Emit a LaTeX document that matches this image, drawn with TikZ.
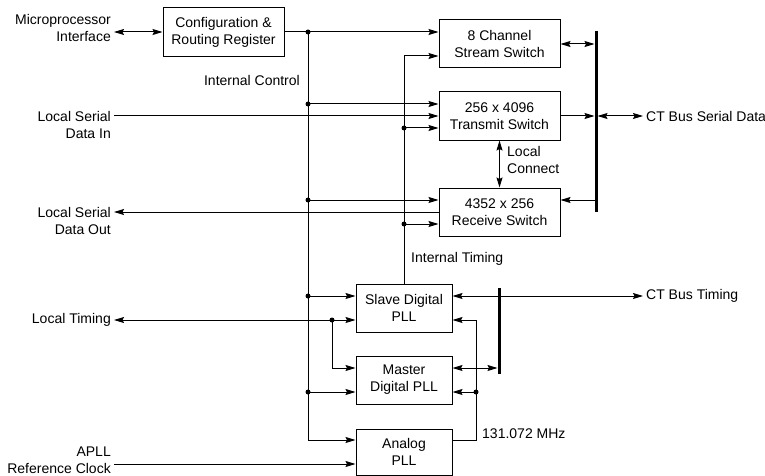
\documentclass[tikz,border=0pt]{standalone}
\usepackage{fontspec}
\setmainfont{Liberation Sans}
\usetikzlibrary{arrows.meta}

\begin{document}
\begin{tikzpicture}[x=1pt,y=-1pt,
    every node/.style={font=\fontsize{14pt}{17pt}\selectfont},
    box/.style={draw,line width=1pt,align=center,inner sep=0pt},
    lbl/.style={align=right,anchor=east,inner sep=3pt},
    wire/.style={line width=1pt},
    arr/.style={wire,-{Stealth[length=10pt,width=6pt,inset=1.5pt]}},
    dbl/.style={wire,{Stealth[length=10pt,width=6pt,inset=1.5pt]}-{Stealth[length=10pt,width=6pt,inset=1.5pt]}},
    bus/.style={line width=3pt},
    dot/.style={fill}]
    \useasboundingbox (0,0) rectangle (765,476);

    % blocks
    \node[box,minimum width=121pt,minimum height=49pt] (cfg) at (223.5,32) {Configuration \&\\Routing Register};
    \node[box,minimum width=121pt,minimum height=48pt] (ch) at (499.5,44) {8 Channel\\Stream Switch};
    \node[box,minimum width=121pt,minimum height=48pt] (tx) at (499.5,116) {256 x 4096\\Transmit Switch};
    \node[box,minimum width=121pt,minimum height=48pt] (rx) at (499.5,212) {4352 x 256\\Receive Switch};
    \node[box,minimum width=96pt,minimum height=48pt] (sl) at (404,308) {Slave Digital\\PLL};
    \node[box,minimum width=96pt,minimum height=48pt] (ms) at (404,380) {Master\\Digital PLL};
    \node[box,minimum width=96pt,minimum height=46pt] (an) at (404,452) {Analog\\PLL};

    % labels
    \node[lbl] (micro) at (114,28) {Microprocessor\\Interface};
    \node[lbl] (din) at (114,125) {Local Serial\\Data In};
    \node[lbl] (dout) at (114,221) {Local Serial\\Data Out};
    \node[lbl] (lt) at (114,320) {Local Timing};
    \node[lbl] (apll) at (114,460) {APLL\\Reference Clock};
    \node[anchor=west,inner sep=3pt] (ctsd) at (643,116) {CT Bus Serial Data};
    \node[anchor=west,inner sep=3pt] (ctbt) at (643,296) {CT Bus Timing};
    \node[anchor=east,inner sep=3pt] (ictl) at (303,80) {Internal Control};
    \node[anchor=west,inner sep=3pt] (itim) at (408,259) {Internal Timing};
    \node[anchor=west,align=left,inner sep=3pt] (lcon) at (504,160) {Local\\Connect};
    \node[anchor=west,inner sep=3pt] (mhz) at (479,434) {131.072 MHz};

    % ports and junctions
    \coordinate (ch-a) at ([yshift=12pt]ch.west);
    \coordinate (ch-b) at ([yshift=-12pt]ch.west);
    \coordinate (tx-a) at ([yshift=12pt]tx.west);
    \coordinate (tx-c) at ([yshift=-12pt]tx.west);
    \coordinate (rx-a) at ([yshift=12pt]rx.west);
    \coordinate (rx-c) at ([yshift=-12pt]rx.west);
    \coordinate (rx-e) at ([yshift=12pt]rx.east);
    \coordinate (sl-a) at ([yshift=12pt]sl.west);
    \coordinate (sl-b) at ([yshift=-12pt]sl.west);
    \coordinate (sl-e) at ([yshift=12pt]sl.east);
    \coordinate (sl-f) at ([yshift=-12pt]sl.east);
    \coordinate (ms-a) at ([yshift=12pt]ms.west);
    \coordinate (ms-b) at ([yshift=-12pt]ms.west);
    \coordinate (ms-e) at ([yshift=12pt]ms.east);
    \coordinate (ms-f) at ([yshift=-12pt]ms.east);
    \coordinate (an-a) at ([yshift=12pt]an.west);
    \coordinate (an-b) at ([yshift=-12pt]an.west);
    \coordinate (an-e) at ([yshift=12pt]an.east);
    \coordinate (ctl) at (308,32);
    \coordinate (ctlend) at (308,440);
    \coordinate (sbus) at (596,31);
    \coordinate (sbusend) at (596,212);
    \coordinate (tbus) at (499,288);
    \coordinate (tbusend) at (499,374);
    \coordinate (clk) at (476,320);
    \coordinate (jlt) at (332,320);

    % internal control
    \draw[wire] (cfg.east) -- (ctl) -- (ctlend);
    \draw[arr] (ctl) -- (ch-a);
    \draw[arr] (ctl |- tx-a) -- (tx-a);
    \draw[arr] (ctl |- rx-a) -- (rx-a);
    \draw[arr] (ctl |- sl-a) -- (sl-a);
    \draw[arr] (ctl |- ms-b) -- (ms-b);
    \draw[arr] (ctlend) -- (an-a);
    \foreach \p in {tx-a,rx-a,sl-a,ms-b}
        \fill[dot] (ctl |- \p) circle (2.5pt);
    \fill[dot] (ctl) circle (2.5pt);

    % internal timing
    \draw[arr] (sl.north) |- (ch-b);
    \draw[arr] (sl.north |- tx-c) -- (tx-c);
    \draw[arr] (sl.north |- rx-c) -- (rx-c);
    \fill[dot] (sl.north |- tx-c) circle (2.5pt);
    \fill[dot] (sl.north |- rx-c) circle (2.5pt);

    % local side
    \draw[dbl] (micro.east |- cfg.west) -- (cfg.west);
    \draw[arr] (din.east |- tx.west) -- (tx.west);
    \draw[arr] (rx.west) -- (dout.east |- rx.west);
    \draw[arr] (jlt) -- (lt.east);
    \draw[arr] (jlt) -- (sl-b);
    \draw[arr] (jlt) |- (ms-a);
    \fill[dot] (jlt) circle (2.5pt);
    \draw[arr] (apll.east |- an-b) -- (an-b);

    % CT bus serial data
    \draw[bus] (sbus) -- (sbusend);
    \draw[dbl,shorten >=1.5pt] (ch.east) -- (sbus |- ch.east);
    \draw[arr,shorten >=1.5pt] (tx.east) -- (sbus |- tx.east);
    \draw[dbl,shorten <=1.5pt] (sbus |- tx.east) -- (ctsd.west);
    \draw[arr,shorten <=1.5pt] (sbus |- rx-e) -- (rx-e);
    \draw[dbl] (tx.south) -- (rx.north);

    % CT bus timing
    \draw[bus] (tbus) -- (tbusend);
    \draw[dbl] (sl-e) -- (ctbt.west |- sl-e);
    \draw[dbl,shorten >=1.5pt] (ms-e) -- (tbus |- ms-e);
    \draw[arr] (an-e) -| (clk) -- (sl-f);
    \draw[arr] (clk |- ms-f) -- (ms-f);
    \fill[dot] (clk |- ms-f) circle (2.5pt);
\end{tikzpicture}
\end{document}
